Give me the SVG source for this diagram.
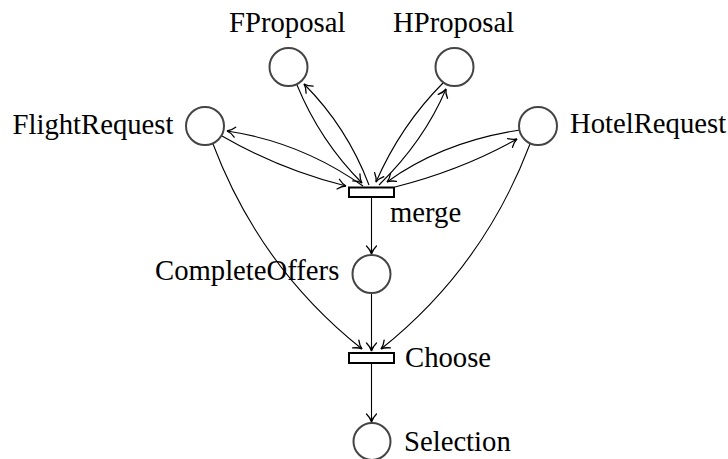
<svg xmlns="http://www.w3.org/2000/svg" width="728" height="459" viewBox="0 0 728 459">
  <defs>
    <marker id="to" markerUnits="userSpaceOnUse" markerWidth="20" markerHeight="20" refX="0" refY="0" orient="auto" overflow="visible">
      <path d="M-8,-5 C-5,-2 -2,-0.5 0,0 C-2,0.5 -5,2 -8,5" fill="none" stroke="#000" stroke-width="1.3" stroke-linecap="round"/>
    </marker>
  </defs>
  <style>
    .place { fill: #fff; stroke: #444; stroke-width: 2; }
    .trans { fill: #fff; stroke: #000; stroke-width: 2; }
    .arc { fill: none; stroke: #000; stroke-width: 1.1; marker-end: url(#to); }
    .lbl { font-family: "Liberation Serif", "Times New Roman", serif; font-size: 28.7px; fill: #000; }
  </style>

  <!-- arcs -->
  <g id="connectors">
    <path class="arc" d="M222,136 Q281,170 346,186"/>
    <path class="arc" d="M363,186 Q301,142 227,131"/>
    <path class="arc" d="M297,85 Q320,141 362,183"/>
    <path class="arc" d="M369,185 Q347,127 304,84"/>
    <path class="arc" d="M443,83 Q401,125 376,182"/>
    <path class="arc" d="M379,185 Q424,141 446,89"/>
    <path class="arc" d="M520,130 Q442,142 387,182"/>
    <path class="arc" d="M395,187 Q462,170 517,139"/>
    <path class="arc" d="M213,144 Q260,268 362,349"/>
    <path class="arc" d="M530,144 Q483,268 381,349"/>
    <path class="arc" d="M371.5,198 L371.5,254"/>
    <path class="arc" d="M371.5,294 L371.5,351"/>
    <path class="arc" d="M371.5,364 L371.5,422"/>
  </g>

  <g id="FProposal">
    <circle class="place" cx="288.5" cy="67" r="19"/>
    <text class="lbl" x="229" y="32">FProposal</text>
  </g>
  <g id="HProposal">
    <circle class="place" cx="454.5" cy="67" r="19"/>
    <text class="lbl" x="393" y="32">HProposal</text>
  </g>
  <g id="FlightRequest">
    <circle class="place" cx="205" cy="126" r="19"/>
    <text class="lbl" x="12.5" y="133.5">FlightRequest</text>
  </g>
  <g id="HotelRequest">
    <circle class="place" cx="538" cy="126" r="19"/>
    <text class="lbl" x="570" y="133">HotelRequest</text>
  </g>
  <g id="merge">
    <rect class="trans" x="349" y="187.5" width="45" height="9.5"/>
    <text class="lbl" x="390" y="221.5">merge</text>
  </g>
  <g id="CompleteOffers">
    <circle class="place" cx="371.5" cy="274" r="19"/>
    <text class="lbl" x="155" y="279.5">CompleteOffers</text>
  </g>
  <g id="Choose">
    <rect class="trans" x="349" y="353" width="45" height="10"/>
    <text class="lbl" x="405" y="367">Choose</text>
  </g>
  <g id="Selection">
    <circle class="place" cx="372" cy="441.5" r="18.5"/>
    <text class="lbl" x="404" y="451">Selection</text>
  </g>
</svg>
